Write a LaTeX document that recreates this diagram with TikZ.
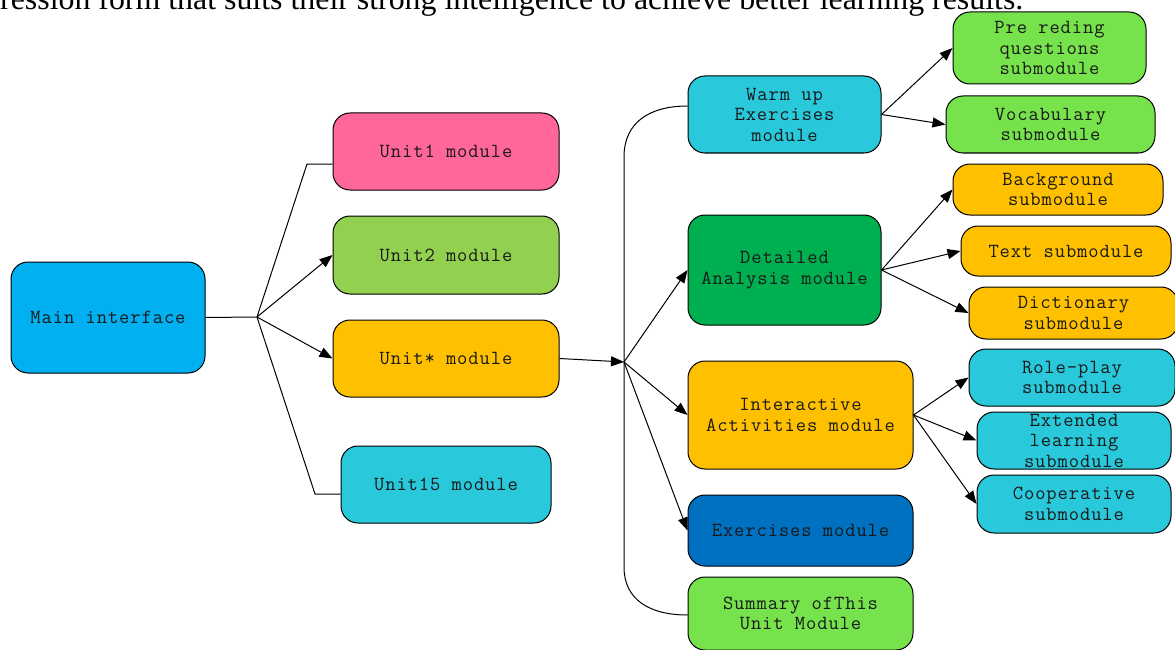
\documentclass[tikz,border=0pt]{standalone}
\usepackage{fontspec}
\setmainfont{Liberation Serif}
\setmonofont{Latin Modern Mono}[LetterSpace=4.5]
\usetikzlibrary{arrows.meta,calc}
\definecolor{cMain}{HTML}{00B0F0}
\definecolor{cPink}{HTML}{FF6699}
\definecolor{cLime}{HTML}{92D050}
\definecolor{cAmber}{HTML}{FFC000}
\definecolor{cTeal}{HTML}{29C8DA}
\definecolor{cDark}{HTML}{00B050}
\definecolor{cBlue}{HTML}{0070C0}
\definecolor{cBright}{HTML}{76E34D}
\begin{document}
\begin{tikzpicture}[x=1pt,y=-1pt,
  box/.style={draw=black, line width=1pt, rounded corners=17pt, inner sep=0pt, align=center,
    font=\ttfamily\fontsize{20}{20.5}\selectfont, text=black!90},
  sz/.style 2 args={minimum width=#1pt, minimum height=#2pt},
  conn/.style={line width=1pt},
  arr/.style={conn, -{Triangle[length=13pt,width=10pt]}}]
\useasboundingbox (0,0) rectangle (1175,650);
\node[anchor=base west, inner sep=0pt] (top) at (0,10) {\resizebox{1023pt}{!}{ression form that suits their strong intelligence to achieve better learning results.}};
% left part
\node[box, fill=cMain, sz={194}{111}] (main) at (108,317.5) {Main interface};
\node[box, fill=cPink, sz={226}{77}] (u1) at (446,151.5) {Unit1 module};
\node[box, fill=cLime, sz={226}{78}] (u2) at (446,255) {Unit2 module};
\node[box, fill=cAmber, sz={226}{77}] (us) at (446,358.5) {Unit* module};
\node[box, fill=cTeal, sz={210}{77}] (u15) at (446,484.5) {Unit15 module};
% middle
\node[box, fill=cTeal, sz={193}{77}] (warm) at (784.5,114.5) {Warm up\\Exercises\\module};
\node[box, fill=cDark, sz={193}{110}] (det) at (784.5,270) {Detailed\\Analysis module};
\node[box, fill=cAmber, sz={225}{108}] (inter) at (800.5,415) {Interactive\\Activities module};
\node[box, fill=cBlue, sz={225}{71}] (ex) at (800.5,530.5) {Exercises module};
\node[box, fill=cBright, sz={225}{73}] (sum) at (800.5,613.5) {Summary ofThis\\Unit Module};
% right
\node[box, fill=cBright, sz={193}{72}] (pre) at (1049.5,48) {Pre reding\\questions\\submodule};
\node[box, fill=cBright, sz={209}{57}] (voc) at (1050.5,124.5) {Vocabulary\\submodule};
\node[box, fill=cAmber, sz={210}{51}] (bg) at (1058,189.5) {Background\\submodule};
\node[box, fill=cAmber, sz={210}{50}] (txt) at (1066,251) {Text submodule};
\node[box, fill=cAmber, sz={209}{52}] (dict) at (1073.5,313) {Dictionary\\submodule};
\node[box, fill=cTeal, sz={206}{57}] (role) at (1072,377.5) {Role-play\\submodule};
\node[box, fill=cTeal, sz={194}{57}] (ext) at (1074,440.5) {Extended\\learning\\submodule};
\node[box, fill=cTeal, sz={194}{58}] (coop) at (1074,504) {Cooperative\\submodule};
% junctions
\coordinate (j1) at (257,317);
\coordinate (j2) at (624,362);
\coordinate (k1) at (307,164);
\coordinate (k2) at (315,494);
\coordinate (v1) at (624,157);
\coordinate (v2) at (624,567);
% connectors left
\draw[conn] (main.east) -- (j1);
\draw[conn] (j1) -- (k1) -- ([yshift=-12.5pt]u1.west);
\draw[arr] (j1) -- (u2.west);
\draw[arr] (j1) -- (us.west);
\draw[conn] (j1) -- (k2) -- ([yshift=-9.5pt]u15.west);
% connectors middle
\draw[arr] (us.east) -- (j2);
\draw[arr] (j2) -- (det.west);
\draw[arr] (j2) -- (inter.west);
\draw[arr] (j2) -- (ex.west);
\draw[conn] (j2) -- (v1) .. controls (624,122) and (650,106) .. ([yshift=8.5pt]warm.west);
\draw[conn] (j2) -- (v2) .. controls (624,600) and (650,615) .. ([yshift=-1.5pt]sum.west);
% connectors right
\draw[arr] (warm.east) -- (pre.west);
\draw[arr] (warm.east) -- (voc.west);
\draw[arr] (det.east) -- (bg.west);
\draw[arr] (det.east) -- (txt.west);
\draw[arr] (det.east) -- (dict.west);
\draw[arr] (inter.east) -- (role.west);
\draw[arr] (inter.east) -- (ext.west);
\draw[arr] (inter.east) -- (coop.west);
\end{tikzpicture}
\end{document}
